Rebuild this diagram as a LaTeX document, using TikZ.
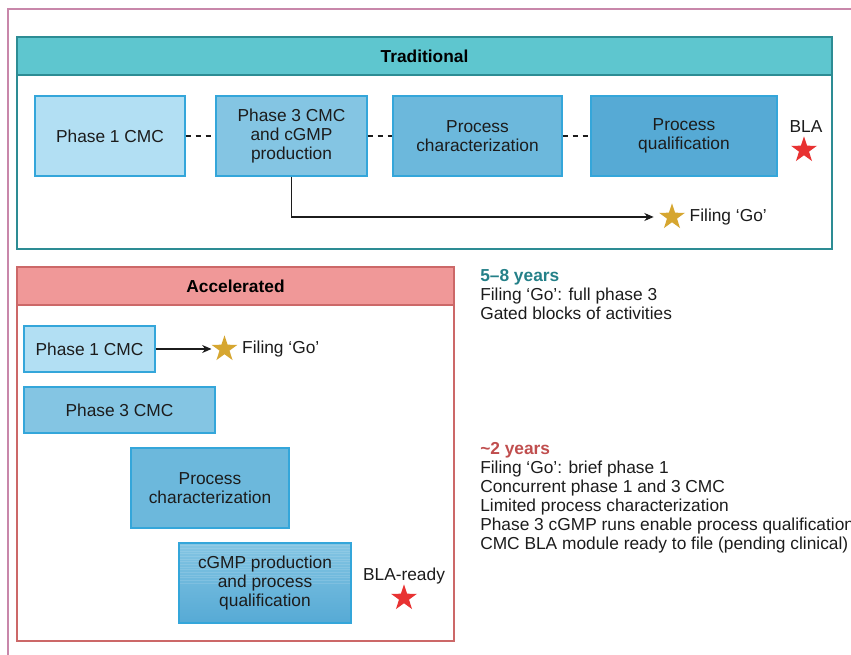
\documentclass[tikz,border=0pt]{standalone}
\usepackage{fontspec}
\setmainfont{Liberation Sans}
\usetikzlibrary{arrows.meta,positioning,shapes.geometric,calc}
\definecolor{framepink}{RGB}{200,135,170}
\definecolor{tealhead}{RGB}{94,198,207}
\definecolor{tealline}{RGB}{45,140,148}
\definecolor{tealtext}{RGB}{36,128,136}
\definecolor{redhead}{RGB}{240,152,152}
\definecolor{redline}{RGB}{204,104,104}
\definecolor{redtext}{RGB}{192,78,78}
\definecolor{boxline}{RGB}{52,166,218}
\definecolor{blueA}{RGB}{178,223,243}
\definecolor{blueB}{RGB}{132,197,227}
\definecolor{blueC}{RGB}{108,184,220}
\definecolor{blueD}{RGB}{86,170,213}
\definecolor{goldstar}{RGB}{214,166,48}
\definecolor{redstar}{RGB}{232,50,50}
\definecolor{inkgrey}{RGB}{28,28,28}
\tikzset{
	stagebox/.style={
		draw=boxline, line width=0.9pt, rectangle,
		align=center, inner sep=0pt, text=inkgrey
	},
	gostar/.style={
		star, star points=5, star point ratio=2.6,
		fill=goldstar, inner sep=0pt, minimum size=20.5pt
	},
	blastar/.style={
		star, star points=5, star point ratio=2.6,
		fill=redstar, inner sep=0pt, minimum size=20.5pt
	},
}

\begin{document}
\begin{tikzpicture}[
		x=0.75pt, y=-0.75pt,
		font=\fontsize{13}{14.25}\selectfont,
		panel/.style={draw, rectangle, line width=1.1pt, fill=white},
		panelhead/.style={
			draw, rectangle, line width=1.1pt,
			minimum height=28.5pt, font=\fontsize{13}{14.25}\selectfont\bfseries
		},
		flowarrow/.style={-{Stealth[length=7pt,width=6pt]}, line width=0.8pt, inkgrey},
		gapline/.style={dash pattern=on 4pt off 3.5pt, line width=0.8pt, inkgrey},
		note/.style={anchor=north west, align=left, inner sep=0pt, text=inkgrey}
		]
		
		\useasboundingbox (0,0) rectangle (851,655);
		\draw[framepink, line width=1pt] (8,9) rectangle (900,700);
		
		% traditional route
		\node[panel, draw=tealline, minimum width=611.25pt, minimum height=159pt] (tframe) at (424.5,143) {};
		\node[panelhead, fill=tealhead, draw=tealline, minimum width=611.25pt] (thead) at (424.5,56) {Traditional};
		
		\node[stagebox, fill=blueA, minimum width=112.5pt, minimum height=60pt] (tp1) at (110,136) {Phase 1 CMC};
		\node[stagebox, fill=blueB, minimum width=113.25pt, minimum height=60pt] (tp3) at (291.5,136) {Phase 3 CMC\\and cGMP\\production};
		\node[stagebox, fill=blueC, minimum width=126.75pt, minimum height=60pt] (tpc) at (477.5,136) {Process\\characterization};
		\node[stagebox, fill=blueD, minimum width=139.5pt, minimum height=60pt] (tpq) at (684,136) {Process\\qualification};
		
		\node[text=inkgrey] (tbla) at (806,127) {BLA};
		\node[blastar] (tredstar) at (804,150) {};
		\node[gostar] (tgostar) at (672,217) {};
		\node[right=4pt of tgostar, text=inkgrey] (tgo) {Filing ‘Go’};
		
		\draw[gapline] (tp1) -- (tp3);
		\draw[gapline] (tp3) -- (tpc);
		\draw[gapline] (tpc) -- (tpq);
		\draw[flowarrow, shorten >=8pt] (tp3.south) |- (tgostar);
		
		% accelerated route
		\node[panel, draw=redline, minimum width=327.75pt, minimum height=280.5pt] (aframe) at (235.5,454) {};
		\node[panelhead, fill=redhead, draw=redline, minimum width=327.75pt] (ahead) at (235.5,286) {Accelerated};
		
		\node[stagebox, fill=blueA, minimum width=98.25pt, minimum height=34.5pt] (ap1) at (89.5,349) {Phase 1 CMC};
		\node[stagebox, fill=blueB, minimum width=143.25pt, minimum height=34.5pt] (ap3) at (119.5,410) {Phase 3 CMC};
		\node[stagebox, fill=blueC, minimum width=118.5pt, minimum height=60pt] (apc) at (210,488) {Process\\characterization};
		\node[stagebox, top color=blueB, bottom color=blueD, minimum width=129pt, minimum height=60pt,
			path picture={
				\foreach \k in {2,4,...,30}
					\draw[white, opacity=0.12, line width=0.5pt]
						([yshift=-\k pt]path picture bounding box.north west) --
						([yshift=-\k pt]path picture bounding box.north east);
			}] (apq) at (265,583) {cGMP production\\and process\\qualification};
		
		\node[gostar] (agostar) at (224.5,349) {};
		\node[right=4pt of agostar, text=inkgrey] (ago) {Filing ‘Go’};
		\node[text=inkgrey] (abla) at (404,576) {BLA-ready};
		\node[blastar] (aredstar) at (404,598) {};
		
		\draw[flowarrow, shorten >=4pt] (ap1) -- (agostar);
		
		% side notes
		\node[note] (tnote) at (480,269) {{\bfseries\color{tealtext}5–8 years}\\Filing ‘Go’: full phase 3\\Gated blocks of activities};
		\node[note] (anote) at (480,442) {{\bfseries\color{redtext}\textasciitilde2 years}\\Filing ‘Go’: brief phase 1\\Concurrent phase 1 and 3 CMC\\Limited process characterization\\Phase 3 cGMP runs enable process qualification\\CMC BLA module ready to file (pending clinical)};
	\end{tikzpicture}
\end{document}
